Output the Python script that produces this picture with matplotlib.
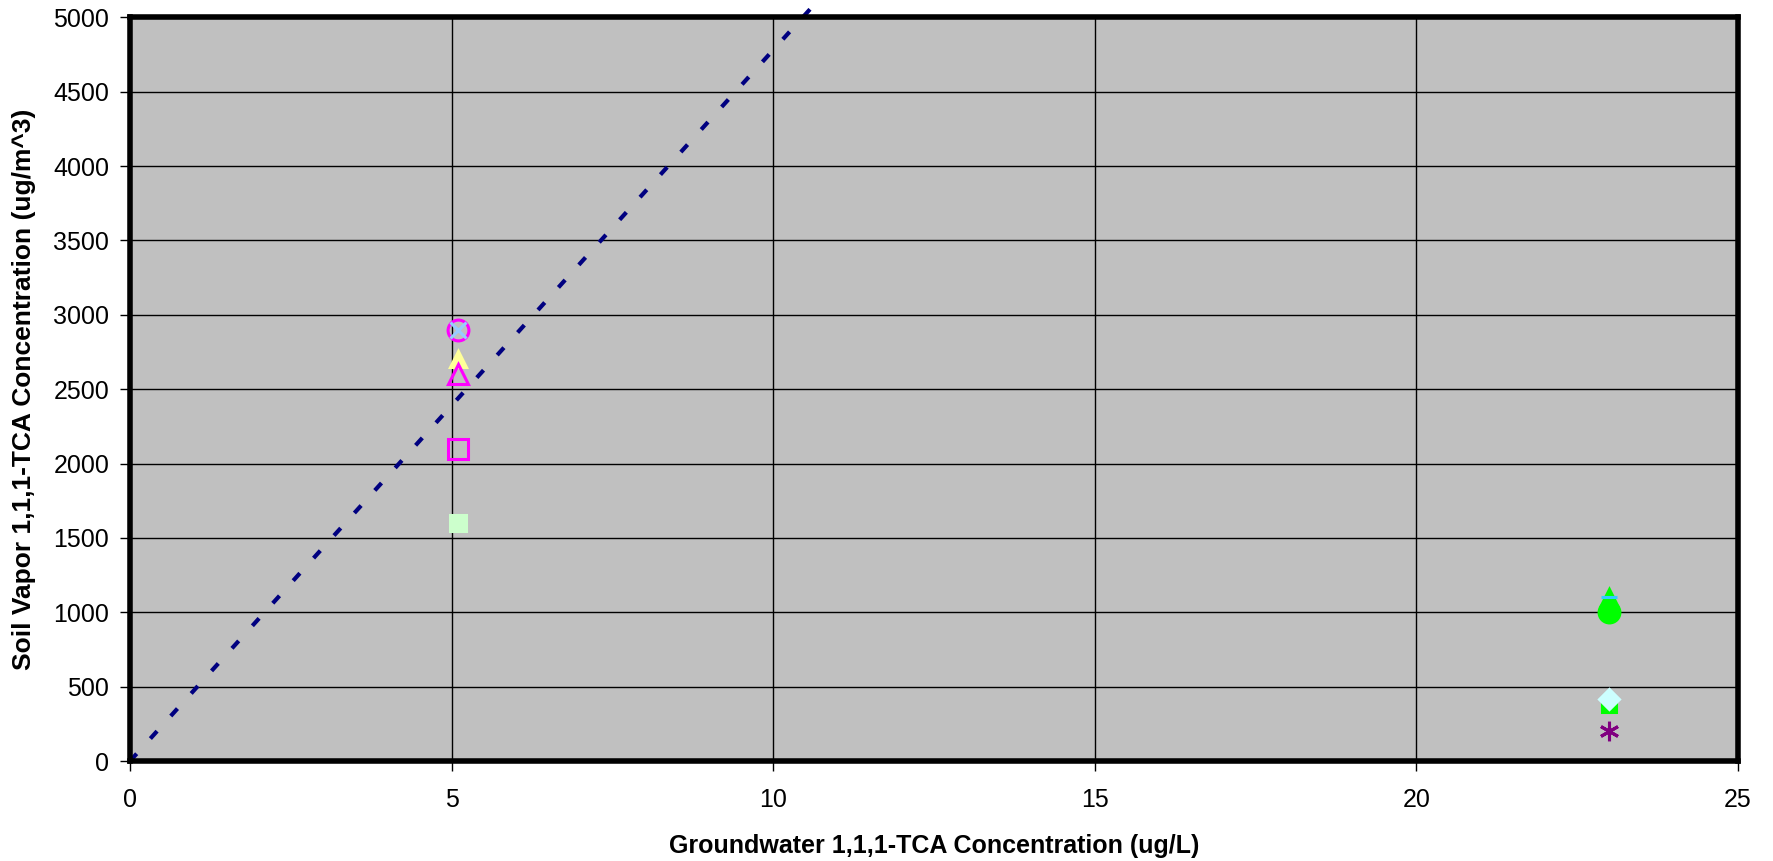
import matplotlib.pyplot as plt

plt.rcParams['font.family'] = ['Liberation Sans', 'DejaVu Sans']

# groundwater vs soil vapour 1,1,1-TCA results
gw_a = [5.1, 5.1, 5.1, 5.1, 5.1, 5.1]
sv_a = [2900, 2900, 2700, 2600, 2100, 1600]
mk_a = ['o', 'x', '^', '^', 's', 's']
fc_a = ['none', '#99CCFF', '#FFFF99', 'none', 'none', '#CCFFCC']
ec_a = ['#FF00FF', '#99CCFF', '#FFFF99', '#FF00FF', '#FF00FF', '#CCFFCC']
ms_a = [15, 11, 11, 14, 14, 11]

gw_b = [23, 23, 23, 23, 23, 23]
sv_b = [1100, 1100, 1000, 380, 420, 200]
mk_b = ['^', '_', 'o', 's', 'D', (6, 2, 0)]
fc_b = ['#00FF00', '#33CCFF', '#00FF00', '#00FF00', '#CCFFFF', '#800080']
ec_b = ['#00FF00', '#33CCFF', '#00FF00', '#00FF00', '#CCFFFF', '#800080']
ms_b = [11, 12, 15, 10, 10, 14]

# reference line: soil vapour = slope * groundwater
line_x = [0, 10.6]
slope = 478

fig = plt.figure(figsize=(17.73, 8.61), dpi=100)
ax = fig.add_axes([0.0733, 0.116, 0.907, 0.864])
ax.set_facecolor('#C0C0C0')

ax.plot(line_x, [slope * v for v in line_x], color='#000080', linewidth=3,
        dashes=(2.4, 4.9), dash_capstyle='butt', zorder=2, clip_on=False)

for x, y, m, fc, ec, ms in zip(gw_a + gw_b, sv_a + sv_b, mk_a + mk_b,
                               fc_a + fc_b, ec_a + ec_b, ms_a + ms_b):
    ax.plot([x], [y], linestyle='none', marker=m, markersize=ms,
            markerfacecolor=fc, markeredgecolor=ec, markeredgewidth=2.2,
            zorder=3, clip_on=False)

ax.set_xlim(0, 25)
ax.set_ylim(0, 5000)
ax.set_xticks(range(0, 26, 5))
ax.set_yticks(range(0, 5001, 500))
ax.grid(True, color='black', linewidth=1)
ax.set_axisbelow(True)
for s in ax.spines.values():
    s.set_linewidth(4)
    s.set_zorder(4)

ax.tick_params(labelsize=18, length=7, width=1, direction='out', pad=8)
ax.tick_params(axis='x', pad=12)
ax.set_xlabel('Groundwater 1,1,1-TCA Concentration (ug/L)', fontsize=18,
              fontweight='bold', labelpad=16)
ax.set_ylabel('Soil Vapor 1,1,1-TCA Concentration (ug/m^3)', fontsize=19,
              fontweight='bold', labelpad=12)

fig.savefig('out.png', dpi=100)
